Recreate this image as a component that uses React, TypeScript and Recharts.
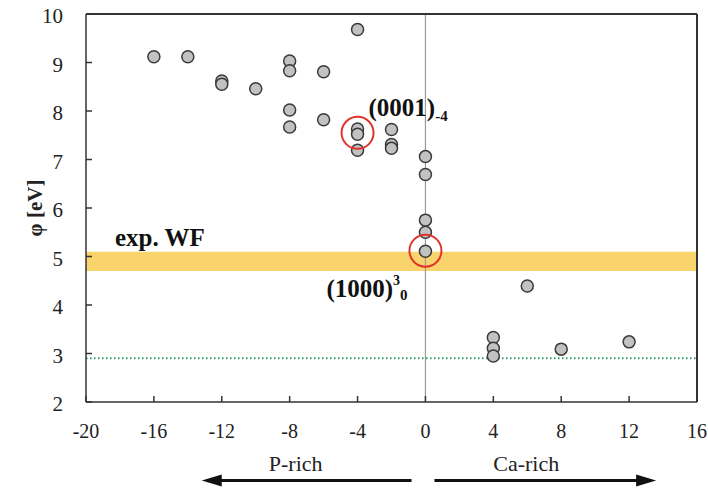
import React from 'react';
import {
  ScatterChart,
  Scatter,
  XAxis,
  YAxis,
  ReferenceLine,
  ReferenceArea,
} from 'recharts';

// ---- data ----
const xTicks = [-20, -16, -12, -8, -4, 0, 4, 8, 12, 16];
const yTicks = [2, 3, 4, 5, 6, 7, 8, 9, 10];

const phiPoints = [
  { x: -16, y: 9.12 },
  { x: -14, y: 9.12 },
  { x: -12, y: 8.62 },
  { x: -12, y: 8.55 },
  { x: -10, y: 8.46 },
  { x: -8, y: 9.03 },
  { x: -8, y: 8.83 },
  { x: -8, y: 8.02 },
  { x: -8, y: 7.67 },
  { x: -6, y: 8.81 },
  { x: -6, y: 7.82 },
  { x: -4, y: 9.68 },
  { x: -4, y: 7.63 },
  { x: -4, y: 7.52 },
  { x: -4, y: 7.19 },
  { x: -2, y: 7.62 },
  { x: -2, y: 7.31 },
  { x: -2, y: 7.23 },
  { x: 0, y: 7.06 },
  { x: 0, y: 6.69 },
  { x: 0, y: 5.75 },
  { x: 0, y: 5.5 },
  { x: 0, y: 5.11 },
  { x: 4, y: 3.33 },
  { x: 4, y: 3.11 },
  { x: 4, y: 2.95 },
  { x: 6, y: 4.39 },
  { x: 8, y: 3.09 },
  { x: 12, y: 3.24 },
];

const highlighted = [
  { x: -4, y: 7.55, name: '(0001)' },
  { x: 0, y: 5.12, name: '(1000)' },
];

const expWFLow = 4.7;
const expWFHigh = 5.1;
const dottedLevel = 2.9;

const arrowLevel = 0.38;
const pRichArrow = [{ x: -0.82, y: arrowLevel }, { x: -13.18, y: arrowLevel }];
const caRichArrow = [{ x: 0.53, y: arrowLevel }, { x: 13.59, y: arrowLevel }];

const FONT = 'Liberation Serif';

const PointShape = (props: any) => {
  const { cx, cy } = props;
  return <circle cx={cx} cy={cy} r={6} fill="#c2c2c2" stroke="#3a3a3a" strokeWidth={1.5} />;
};

const RingShape = (props: any) => {
  const { cx, cy, payload } = props;
  const name = payload.name;
  let label: React.ReactNode = null;
  if (name === '(0001)') {
    label = (
      <text x={cx + 11} y={cy - 17} fontFamily={FONT} fontWeight="bold" fontSize={25} fill="#111">
        (0001)
        <tspan dy={5} fontSize={15}>-4</tspan>
      </text>
    );
  } else {
    label = (
      <text x={cx - 99} y={cy + 46} fontFamily={FONT} fontWeight="bold" fontSize={25} fill="#111">
        (1000)
        <tspan dy={-12} fontSize={14}>3</tspan>
        <tspan dy={15} fontSize={15}>0</tspan>
      </text>
    );
  }
  return (
    <g>
      <circle cx={cx} cy={cy} r={16} fill="none" stroke="#e2332b" strokeWidth={2} />
      {label}
    </g>
  );
};

const makeArrow = (text: string, textShift: number) => (props: any) => {
  const { x1, y1, x2, y2 } = props;
  const dir = x2 > x1 ? 1 : -1;
  const headLen = 20;
  const headHalf = 6;
  const mid = (x1 + x2) / 2;
  return (
    <g>
      <line x1={x1} y1={y1} x2={x2 - dir * headLen + dir * 2} y2={y2} stroke="#111" strokeWidth={3} />
      <polygon
        points={`${x2},${y2} ${x2 - dir * headLen},${y2 - headHalf} ${x2 - dir * headLen},${y2 + headHalf}`}
        fill="#111"
      />
      <text x={mid + textShift} y={y1 - 10} textAnchor="middle" fontFamily={FONT} fontSize={22} fill="#222">
        {text}
      </text>
    </g>
  );
};

const YTitle = (props: any) => {
  const { viewBox } = props;
  const cx = viewBox.x + 35;
  const cy = viewBox.y + viewBox.height / 2;
  return (
    <text
      x={cx}
      y={cy}
      transform={`rotate(-90, ${cx}, ${cy})`}
      textAnchor="middle"
      dominantBaseline="central"
      fontFamily={FONT}
      fontWeight="bold"
      fontSize={21}
      fill="#222"
    >
      φ [eV]
    </text>
  );
};

const ExpLabel = (props: any) => {
  const { viewBox } = props;
  return (
    <text x={viewBox.x + 29} y={viewBox.y - 6} fontFamily={FONT} fontWeight="bold" fontSize={25} fill="#111">
      exp. WF
    </text>
  );
};

export default function App() {
  return (
    <div style={{ position: 'absolute', left: 0, top: 0, background: '#fff', fontFamily: FONT }}>
      <ScatterChart width={708} height={490} margin={{ top: 14, right: 11, left: 0, bottom: 0 }}>
        <XAxis
          type="number"
          dataKey="x"
          domain={[-20, 16]}
          ticks={xTicks}
          interval={0}
          height={88}
          allowDataOverflow
          stroke="#333"
          strokeWidth={1.5}
          tickSize={-6}
          tickMargin={28}
          tick={{ fontFamily: FONT, fontSize: 20, fill: '#222' }}
        />
        <YAxis
          type="number"
          dataKey="y"
          domain={[2, 10]}
          ticks={yTicks}
          interval={0}
          width={86}
          allowDataOverflow
          stroke="#333"
          strokeWidth={1.5}
          tickSize={-6}
          tickMargin={29}
          tick={{ fontFamily: FONT, fontSize: 21, fill: '#222', dy: 2 }}
          label={<YTitle />}
        />
        <ReferenceArea
          y1={expWFLow}
          y2={expWFHigh}
          fill="#f9d36c"
          fillOpacity={1}
          stroke="none"
          label={<ExpLabel />}
        />
        <ReferenceLine x={0} stroke="#9a9a9a" strokeWidth={1.2} />
        <ReferenceLine y={dottedLevel} stroke="#2e9d66" strokeWidth={2} strokeDasharray="1.5 2.5" />
        <ReferenceLine y={10} stroke="#333" strokeWidth={2} />
        <ReferenceLine x={16} stroke="#333" strokeWidth={2} />
        <ReferenceLine segment={pRichArrow} ifOverflow="visible" shape={makeArrow('P-rich', -11)} />
        <ReferenceLine segment={caRichArrow} ifOverflow="visible" shape={makeArrow('Ca-rich', -19)} />
        <Scatter data={phiPoints} shape={<PointShape />} isAnimationActive={false} />
        <Scatter data={highlighted} shape={<RingShape />} isAnimationActive={false} />
      </ScatterChart>
    </div>
  );
}
